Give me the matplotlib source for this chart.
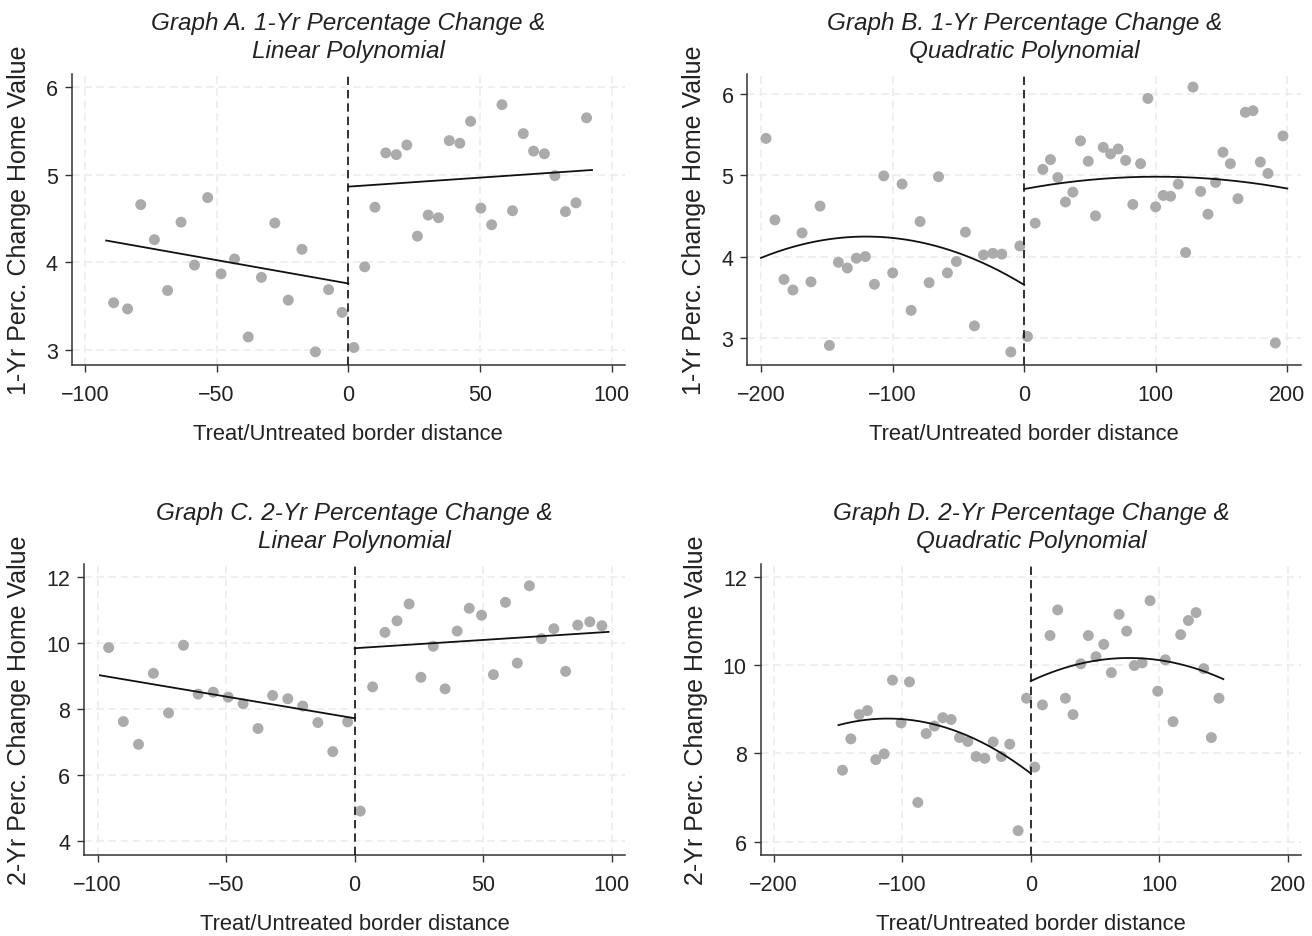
import numpy as np
import matplotlib
matplotlib.use("Agg")
import matplotlib.pyplot as plt

# ---------------- data ----------------
# Graph A: 1-yr change, linear fit
a_left_x = [-89.1, -83.8, -78.8, -73.6, -68.6, -63.5, -58.4, -53.4, -48.3, -43.2,
            -38.0, -33.0, -27.9, -22.8, -17.6, -12.5, -7.5, -2.4]
a_left_y = [3.54, 3.47, 4.66, 4.26, 3.68, 4.46, 3.97, 4.74, 3.87, 4.04,
            3.15, 3.83, 4.45, 3.57, 4.15, 2.98, 3.69, 3.43]
a_right_x = [2.1, 6.2, 10.1, 14.2, 18.2, 22.2, 26.2, 30.3, 34.2, 38.3, 42.3, 46.4,
             50.3, 54.4, 58.3, 62.3, 66.4, 70.3, 74.4, 78.4, 82.4, 86.4, 90.4]
a_right_y = [3.03, 3.95, 4.63, 5.25, 5.23, 5.34, 4.30, 4.54, 4.51, 5.39, 5.36, 5.61,
             4.62, 4.43, 5.80, 4.59, 5.47, 5.27, 5.24, 4.99, 4.58, 4.68, 5.65]
a_fit_left_x = [-91.9, 0.0]
a_fit_left_y = [4.25, 3.76]
a_fit_right_x = [0.0, 92.5]
a_fit_right_y = [4.865, 5.055]

# Graph B: 1-yr change, quadratic fit
b_left_x = [-196.2, -189.4, -182.5, -175.7, -168.8, -162.0, -155.1, -148.0, -141.2, -134.4,
            -127.5, -120.7, -113.8, -106.7, -99.9, -92.8, -85.9, -79.1, -72.2, -65.1,
            -58.3, -51.5, -44.6, -37.8, -30.9, -23.8, -17.0, -10.1, -3.3]
b_left_y = [5.45, 4.45, 3.72, 3.59, 4.29, 3.69, 4.62, 2.91, 3.93, 3.86,
            3.98, 4.00, 3.66, 4.99, 3.80, 4.89, 3.34, 4.43, 3.68, 4.98,
            3.80, 3.94, 4.30, 3.15, 4.02, 4.04, 4.03, 2.83, 4.13]
b_right_x = [2.5, 8.4, 14.2, 20.0, 25.6, 31.4, 37.0, 42.8, 48.7, 54.2, 60.1, 65.7,
             71.5, 77.1, 82.6, 88.5, 94.0, 99.9, 105.7, 111.3, 117.1, 122.7, 128.3,
             134.1, 139.7, 145.5, 151.1, 156.7, 162.5, 168.1, 173.9, 179.5, 185.3,
             190.9, 196.7]
b_right_y = [3.02, 4.41, 5.07, 5.19, 4.97, 4.67, 4.79, 5.42, 5.17, 4.50, 5.34, 5.26,
             5.32, 5.18, 4.64, 5.14, 5.94, 4.61, 4.75, 4.74, 4.89, 4.05, 6.08,
             4.80, 4.52, 4.91, 5.28, 5.14, 4.71, 5.77, 5.79, 5.16, 5.02,
             2.94, 5.48]
b_fit_left_coef = [-4.105e-5, -0.009865, 3.653]   # quadratic coefficients
b_fit_left_range = [-200.0, 0.0]
b_fit_right_coef = [-1.48e-5, 0.00299, 4.829]
b_fit_right_range = [0.0, 200.0]

# Graph C: 2-yr change, linear fit
c_left_x = [-95.7, -90.0, -84.1, -78.3, -72.4, -66.6, -60.9, -55.0, -49.2, -43.4,
            -37.6, -31.9, -26.0, -20.2, -14.3, -8.5, -2.7]
c_left_y = [9.86, 7.62, 6.93, 9.08, 7.88, 9.93, 8.45, 8.51, 8.36, 8.16,
            7.41, 8.41, 8.31, 8.09, 7.59, 6.71, 7.61]
c_right_x = [2.2, 7.0, 11.8, 16.5, 21.2, 25.8, 30.6, 35.2, 39.9, 44.6, 49.4,
             54.0, 58.7, 63.3, 68.0, 72.7, 77.5, 82.1, 86.8, 91.5, 96.2]
c_right_y = [4.91, 8.67, 10.32, 10.67, 11.18, 8.96, 9.90, 8.61, 10.36, 11.05, 10.84,
             9.04, 11.23, 9.39, 11.73, 10.13, 10.43, 9.14, 10.54, 10.64, 10.52]
c_fit_left_x = [-99.1, 0.0]
c_fit_left_y = [9.02, 7.72]
c_fit_right_x = [0.0, 98.8]
c_fit_right_y = [9.84, 10.335]

# Graph D: 2-yr change, quadratic fit
d_left_x = [-146.4, -139.9, -133.4, -127.0, -120.5, -114.0, -107.5, -100.8, -94.3, -87.8,
            -81.3, -74.9, -68.4, -61.9, -55.4, -48.9, -42.5, -35.7, -29.2, -22.8,
            -16.3, -9.8, -3.3]
d_left_y = [7.62, 8.33, 8.88, 8.97, 7.86, 7.99, 9.66, 8.69, 9.62, 6.89,
            8.45, 8.62, 8.81, 8.77, 8.36, 8.27, 7.93, 7.89, 8.26, 7.93,
            8.21, 6.25, 9.25]
d_right_x = [3.1, 9.1, 15.0, 21.0, 27.0, 32.9, 38.9, 44.8, 50.8, 56.8, 62.7, 68.7,
             74.6, 80.6, 86.6, 92.8, 98.8, 104.7, 110.7, 116.6, 122.6, 128.6,
             134.5, 140.5, 146.4]
d_right_y = [7.69, 9.10, 10.67, 11.25, 9.25, 8.88, 10.03, 10.67, 10.19, 10.47, 9.83, 11.15,
             10.77, 9.99, 10.05, 11.46, 9.41, 10.12, 8.72, 10.69, 11.01, 11.19,
             9.92, 8.36, 9.25]
d_fit_left_coef = [-1.0054e-4, -0.022354, 7.547]
d_fit_left_range = [-149.5, 0.0]
d_fit_right_coef = [-8.935e-5, 0.013685, 9.638]
d_fit_right_range = [0.0, 149.8]

titles = ["Graph A. 1-Yr Percentage Change &\nLinear Polynomial",
          "Graph B. 1-Yr Percentage Change &\nQuadratic Polynomial",
          "Graph C. 2-Yr Percentage Change &\nLinear Polynomial",
          "Graph D. 2-Yr Percentage Change &\nQuadratic Polynomial"]
ylabels = ["1-Yr Perc. Change Home Value", "1-Yr Perc. Change Home Value",
           "2-Yr Perc. Change Home Value", "2-Yr Perc. Change Home Value"]
xlabel = "Treat/Untreated border distance"
xticks_ab = [[-100, -50, 0, 50, 100], [-200, -100, 0, 100, 200]]
yticks_1yr = [3, 4, 5, 6]
yticks_2yr = [4, 6, 8, 10, 12]
yticks_2yr_d = [6, 8, 10, 12]

# ---------------- style ----------------
plt.rcParams['font.family'] = ['Liberation Sans', 'DejaVu Sans']
FS_TICK = 15.5
FS_TITLE = 17.5
FS_XLAB = 15.8
FS_YLAB = 18.0
DOT = '#ababab'
AXC = '#333333'
TXT = '#222222'

fig = plt.figure(figsize=(13.12, 9.37), dpi=100)
W, H = 1312, 937


def make_ax(l, t, r, b):
    return fig.add_axes([l / W, 1 - b / H, (r - l) / W, (b - t) / H])


axA = make_ax(71.7, 75, 625, 366)
axB = make_ax(747.3, 75, 1301, 366)
axC = make_ax(84, 565, 625, 856)
axD = make_ax(760.7, 565, 1301, 856)

panels = [
    (axA, a_left_x, a_left_y, a_right_x, a_right_y, ('lin', a_fit_left_x, a_fit_left_y),
     ('lin', a_fit_right_x, a_fit_right_y), (-105, 105), (2.83, 6.15), xticks_ab[0], yticks_1yr),
    (axB, b_left_x, b_left_y, b_right_x, b_right_y, ('quad', b_fit_left_range, b_fit_left_coef),
     ('quad', b_fit_right_range, b_fit_right_coef), (-210.4, 210.4), (2.67, 6.24), xticks_ab[1], yticks_1yr),
    (axC, c_left_x, c_left_y, c_right_x, c_right_y, ('lin', c_fit_left_x, c_fit_left_y),
     ('lin', c_fit_right_x, c_fit_right_y), (-105.3, 105.2), (3.58, 12.39), xticks_ab[0], yticks_2yr),
    (axD, d_left_x, d_left_y, d_right_x, d_right_y, ('quad', d_fit_left_range, d_fit_left_coef),
     ('quad', d_fit_right_range, d_fit_right_coef), (-210, 210.2), (5.70, 12.29), xticks_ab[1], yticks_2yr_d),
]

for i, (ax, lx, ly, rx, ry, fl, fr, xlim, ylim, xt, yt) in enumerate(panels):
    ax.set_xlim(*xlim)
    ax.set_ylim(*ylim)
    ax.set_xticks(xt)
    ax.set_yticks(yt)
    ax.grid(True, color='#ebebeb', linestyle=(0, (5, 3)), linewidth=1.1, zorder=0)
    ax.set_axisbelow(True)
    ax.scatter(lx, ly, s=62, color=DOT, edgecolors='none', zorder=3)
    ax.scatter(rx, ry, s=62, color=DOT, edgecolors='none', zorder=3)
    for f in (fl, fr):
        if f[0] == 'lin':
            ax.plot(f[1], f[2], color='#111111', lw=1.3, zorder=4)
        else:
            xs = np.linspace(f[1][0], f[1][1], 200)
            ax.plot(xs, np.polyval(f[2], xs), color='#111111', lw=1.3, zorder=4)
    ax.axvline(0, color='#111111', lw=1.2, linestyle=(0, (5, 3)), zorder=5)
    for s in ('top', 'right'):
        ax.spines[s].set_visible(False)
    for s in ('left', 'bottom'):
        ax.spines[s].set_color(AXC)
        ax.spines[s].set_linewidth(1.1)
    ax.tick_params(axis='both', direction='out', length=5, width=1.0, color=AXC,
                   labelsize=FS_TICK, labelcolor=TXT)
    ax.tick_params(axis='x', pad=9)
    ax.tick_params(axis='y', pad=5)
    ax.xaxis.set_major_formatter(matplotlib.ticker.FuncFormatter(
        lambda v, p: ('\u2212' + str(int(abs(v)))) if v < 0 else str(int(v))))
    ax.set_title(titles[i], fontsize=FS_TITLE, style='italic', color=TXT,
                 linespacing=1.3, pad=12)
    ax.set_xlabel(xlabel, fontsize=FS_XLAB, color=TXT, labelpad=13)
    ax.set_ylabel(ylabels[i], fontsize=FS_YLAB, color=TXT, labelpad=11)

fig.savefig('out.png', dpi=100, facecolor='white')
